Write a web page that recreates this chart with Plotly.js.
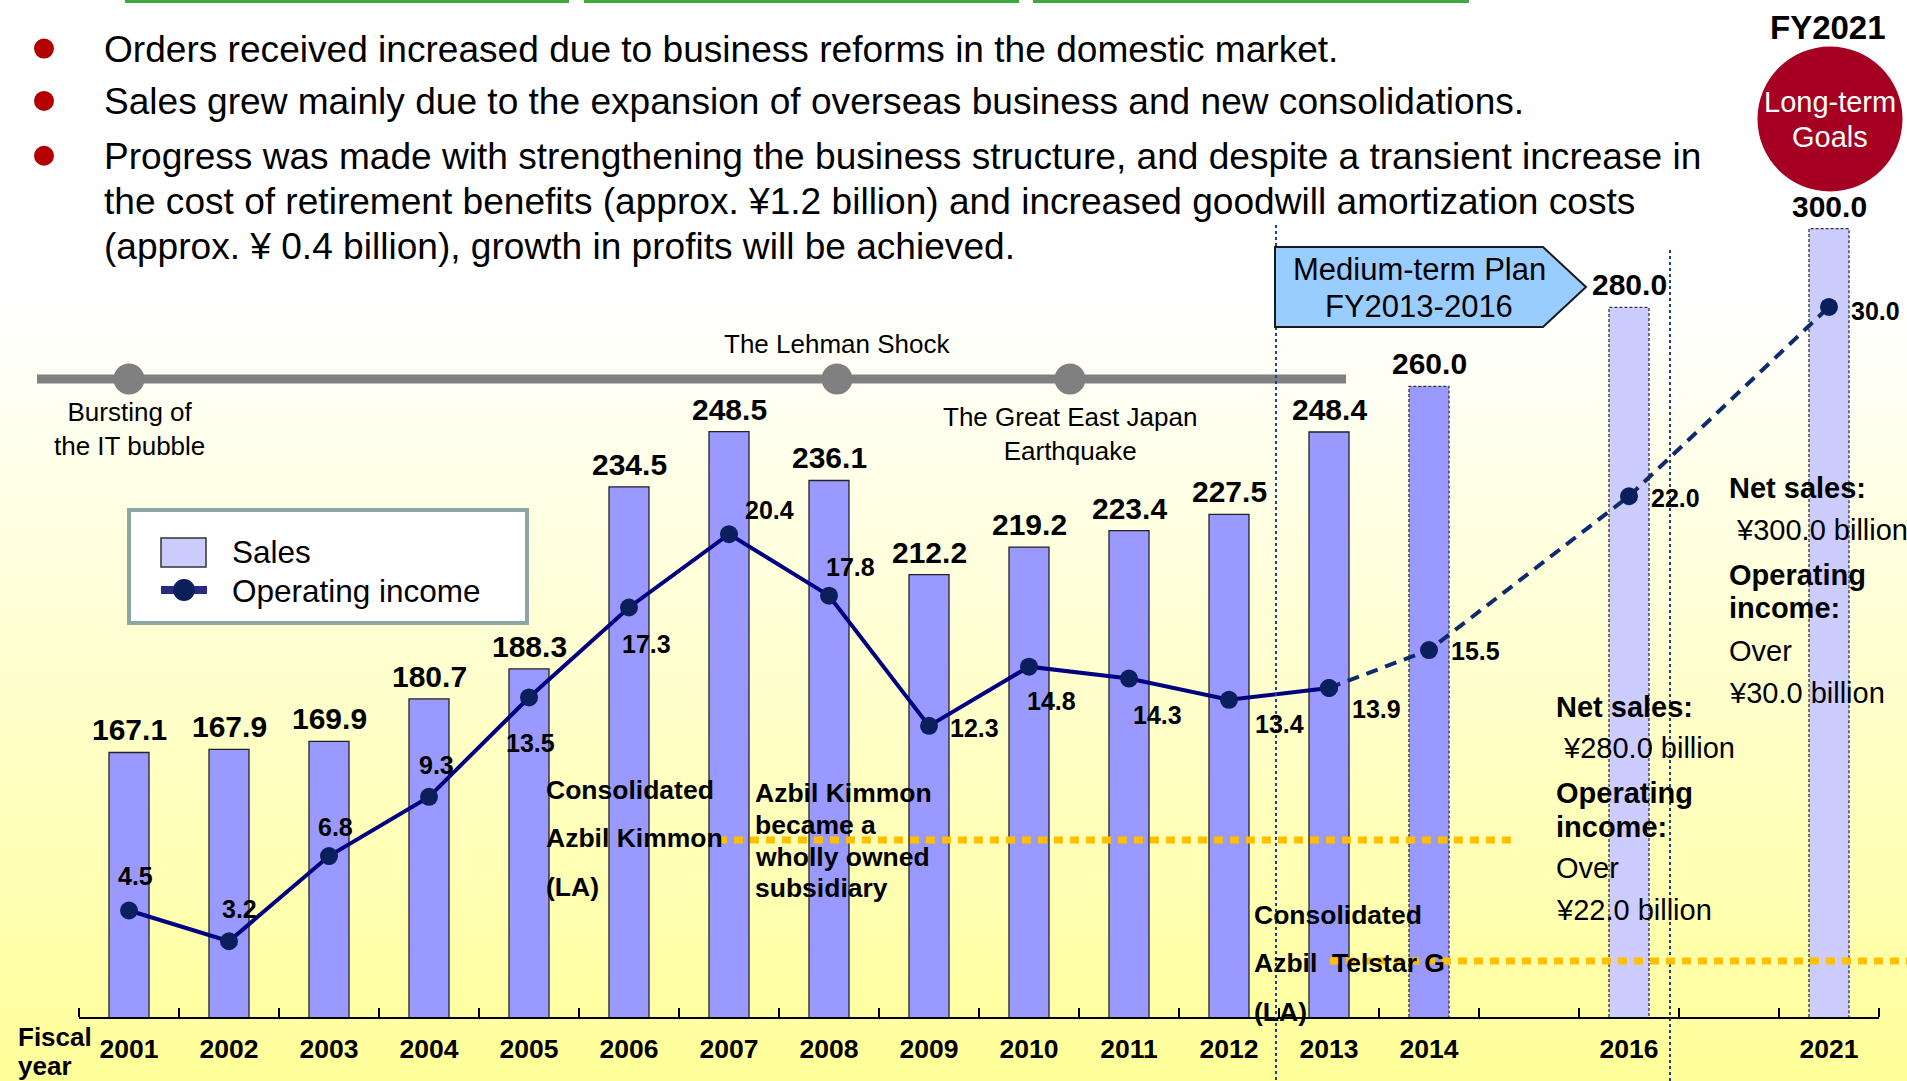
<!DOCTYPE html>
<html><head><meta charset="utf-8">
<script src="https://cdn.plot.ly/plotly-3.0.1.min.js"></script>
<style>
html,body{margin:0;padding:0;}
body{width:1907px;height:1081px;overflow:hidden;background:linear-gradient(to bottom,#ffffff 0%,#ffffff 28%,#ffff99 100%);}
#chart{width:1907px;height:1081px;}
</style></head><body><div id="chart"></div>
<script>
// ---------------- DATA ----------------
const years = ['2001','2002','2003','2004','2005','2006','2007','2008','2009','2010','2011','2012','2013','2014','2016','2021'];
const sales = [167.1,167.9,169.9,180.7,188.3,234.5,248.5,236.1,212.2,219.2,223.4,227.5,248.4,260.0,280.0,300.0];
const opIncome = [4.5,3.2,6.8,9.3,13.5,17.3,20.4,17.8,12.3,14.8,14.3,13.4,13.9,15.5,22.0,30.0];
const status = ['actual','actual','actual','actual','actual','actual','actual','actual','actual','actual','actual','actual','actual','forecast','target','target'];
const axisSlots = ['2001','2002','2003','2004','2005','2006','2007','2008','2009','2010','2011','2012','2013','2014','','2016','','2021'];
const seriesNames = ['Sales','Operating income'];
const eventLabels = ['Bursting of<br>the IT bubble','The Lehman Shock','The Great East Japan<br>Earthquake'];
const eventSlots = [0, 7.08, 9.41];
const bulletLines = [
  ['Orders received increased due to business reforms in the domestic market.'],
  ['Sales grew mainly due to the expansion of overseas business and new consolidations.'],
  ['Progress was made with strengthening the business structure, and despite a transient increase in',
   'the cost of retirement benefits (approx. \u00a51.2 billion) and increased goodwill amortization costs',
   '(approx. \u00a5 0.4 billion), growth in profits will be achieved.']
];
const planLabel = ['Medium-term Plan','FY2013-2016'];
const goalTitle = 'FY2021';
const goalLabel = ['Long-term','Goals'];
const kimmonConsol = ['Consolidated','Azbil Kimmon','(LA)'];
const kimmonOwned = ['Azbil Kimmon','became a','wholly owned','subsidiary'];
const telstarConsol = ['Consolidated','Azbil\u00a0\u00a0Telstar G','(LA)'];
const target2016 = [['Net sales:',true],['\u00a0\u00a5280.0 billion',false],['Operating',true],['income:',true],['Over',false],['\u00a522.0 billion',false]];
const target2021 = [['Net sales:',true],['\u00a0\u00a5300.0 billion',false],['Operating',true],['income:',true],['Over',false],['\u00a530.0 billion',false]];
const fiscalLabel = ['Fiscal','year'];

// ---------------- LAYOUT HELPERS ----------------
const W=1907, H=1081, M={l:79,r:28,t:0,b:64};
const PW=W-M.l-M.r, PH=H-M.t-M.b;
const xp = px => (px-M.l)/PW;
const yp = py => (H-M.b-py)/PH;
const FONT = 'Liberation Sans, Arial, sans-serif';
const slot = years.map(y => axisSlots.indexOf(y));

function note(px, py, text, size, bold, anchor, color) {
  return {xref:'paper', yref:'paper', x:xp(px), y:yp(py), text:text, showarrow:false,
    xanchor:anchor||'left', yanchor:'middle', borderpad:0,
    font:{family:FONT, size:size, color:color||'#000', weight:bold?'bold':'normal'}};
}

// ---------------- TRACES ----------------
const barColor = status.map(s => s==='target' ? '#CCCCFF' : '#9999FF');
const barLineW = status.map(s => s==='actual' ? 1.3 : 0);
const traces = [];
traces.push({type:'bar', x:slot, y:sales, width:0.4, name:seriesNames[0],
  marker:{color:barColor, line:{color:'#222', width:barLineW}}, hoverinfo:'x+y'});

// dashed outlines for non-actual bars
const ox=[], oy=[];
sales.forEach((v,i)=>{ if(status[i]!=='actual'){ const c=slot[i];
  ox.push(c-0.2,c-0.2,c+0.2,c+0.2,null); oy.push(100,v,v,100,null);} });
traces.push({type:'scatter', mode:'lines', x:ox, y:oy, line:{color:'#333', width:1.3, dash:'3px,2px'}, hoverinfo:'skip', showlegend:false});

const actIdx = status.map((s,i)=>s==='actual'?i:-1).filter(i=>i>=0);
const lastAct = actIdx[actIdx.length-1];
const planIdx = status.map((s,i)=>(s!=='actual'||i===lastAct)?i:-1).filter(i=>i>=0);
traces.push({type:'scatter', mode:'lines+markers', yaxis:'y2', name:seriesNames[1],
  x:actIdx.map(i=>slot[i]), y:actIdx.map(i=>opIncome[i]),
  line:{color:'#000080', width:4}, marker:{size:18, color:'#0B1F5C'}});
traces.push({type:'scatter', mode:'lines+markers', yaxis:'y2', showlegend:false,
  x:planIdx.map(i=>slot[i]), y:planIdx.map(i=>opIncome[i]),
  line:{color:'#0E2C6C', width:4, dash:'12px,8px'}, marker:{size:18, color:'#0B1F5C'}});

// ---------------- ANNOTATIONS ----------------
const ann = [];
// sales labels
sales.forEach((v,i)=>ann.push({xref:'x', yref:'y', x:slot[i], y:v, yshift:22.5, text:v.toFixed(1),
  showarrow:false, xanchor:'center', yanchor:'middle', font:{family:FONT, size:30, weight:'bold', color:'#000'}}));
// operating income labels (pixel offsets from the point)
const opOffset = [[6,-34],[10,-32],[6,-29],[7,-32],[1,46],[17,36],[40,-24],[21,-29],[45,2],[22,34],[28,36],[50,24],[47,21],[46,1],[46,2],[46,4]];
opIncome.forEach((v,i)=>ann.push({xref:'x', yref:'y2', x:slot[i], y:v, xshift:opOffset[i][0], yshift:-opOffset[i][1],
  text:v.toFixed(1), showarrow:false, xanchor:'center', yanchor:'middle', font:{family:FONT, size:25, weight:'bold', color:'#000'}}));
// events
const eventLabelY = [429, 344, 434];
eventLabels.forEach((t,i)=>ann.push({xref:'x', yref:'paper', x:eventSlots[i], y:yp(eventLabelY[i]), text:t,
  showarrow:false, xanchor:'center', yanchor:'middle', font:{family:FONT, size:26, color:'#000'}}));
// bullets
const bulletY = [[48.6],[100.9],[155.7,200.7,245.7]];
bulletLines.forEach((lines,b)=>lines.forEach((t,j)=>ann.push(note(103, bulletY[b][j], t, 37.1, false))));
// plan box text
ann.push(note(1419, 269, planLabel[0], 31, false, 'center'));
ann.push(note(1419, 306.5, planLabel[1], 31, false, 'center'));
// FY2021 goals
ann.push(note(1828, 27, goalTitle, 33, true, 'center'));
ann.push(note(1830, 102, goalLabel[0], 29, false, 'center', '#fff'));
ann.push(note(1830, 137, goalLabel[1], 29, false, 'center', '#fff'));
// acquisitions
[790,838,887].forEach((y,j)=>ann.push(note(545, y, kimmonConsol[j], 26.5, true)));
[793,825,857,888].forEach((y,j)=>ann.push(note(754, y, kimmonOwned[j], 26.5, true)));
[915,963,1012].forEach((y,j)=>ann.push(note(1253, y, telstarConsol[j], 26.5, true)));
// targets
[707,748,793,827,868,910].forEach((y,j)=>ann.push(note(1555, y, target2016[j][0], 29, target2016[j][1])));
[488,530,575,608,651,693].forEach((y,j)=>ann.push(note(1728, y, target2021[j][0], 29, target2021[j][1])));
// fiscal year
ann.push(note(17, 1037, fiscalLabel[0], 26, true));
ann.push(note(17, 1066, fiscalLabel[1], 26, true));
// legend texts
ann.push(note(231, 552, seriesNames[0], 31.5, false));
ann.push(note(231, 591, seriesNames[1], 31.5, false));

// ---------------- SHAPES ----------------
const shp = [];
function pline(x0,y0,x1,y1,color,width,dash){shp.push({type:'line',xref:'paper',yref:'paper',x0:xp(x0),y0:yp(y0),x1:xp(x1),y1:yp(y1),line:{color:color,width:width,dash:dash||'solid'}});}
function pcircle(cx,cy,d,color,lineColor,lw){shp.push({type:'circle',xref:'paper',yref:'paper',xsizemode:'pixel',ysizemode:'pixel',
  xanchor:xp(cx),yanchor:yp(cy),x0:-d/2,x1:d/2,y0:-d/2,y1:d/2,fillcolor:color,line:{color:lineColor||color,width:lw||0}});}
// green header lines
pline(125,1.5,569,1.5,'#3DA83D',3); pline(584,1.5,1019,1.5,'#3DA83D',3); pline(1033,1.5,1469,1.5,'#3DA83D',3);
// bullet dots
[48.6,100.9,155.7].forEach(y=>pcircle(44,y,20,'#B40000'));
// goals circle
pcircle(1830,119,145,'#A50021');
// timeline
pline(37,379,1346,379,'#808080',9);
eventSlots.forEach(s=>shp.push({type:'circle',xref:'x',yref:'paper',xsizemode:'pixel',ysizemode:'pixel',xanchor:s,yanchor:yp(379),
  x0:-15.5,x1:15.5,y0:-15.5,y1:15.5,fillcolor:'#808080',line:{width:0}}));
// blue dotted verticals
pline(1276,225,1276,1081,'#1F3FA0',2,'dot');
pline(1670,250,1670,1081,'#1F3FA0',2,'dot');
// plan pentagon
const pp=[[1275,247],[1543,247],[1586,287],[1543,327],[1275,327]];
shp.push({type:'path',xref:'paper',yref:'paper',path:'M'+pp.map(p=>xp(p[0])+','+yp(p[1])).join(' L')+' Z',
  fillcolor:'#99CCFF',line:{color:'#1A1A1A',width:2}});
// orange dotted lines
pline(718,840,1518,840,'#FFC000',7,'9px,7px');
pline(1330,961,1907,961,'#FFC000',7,'9px,7px');
// legend
shp.push({type:'rect',xref:'paper',yref:'paper',x0:xp(129),x1:xp(527),y0:yp(510),y1:yp(623),fillcolor:'#fff',line:{color:'#8CA6A6',width:4}});
shp.push({type:'rect',xref:'paper',yref:'paper',x0:xp(161),x1:xp(206),y0:yp(538),y1:yp(567),fillcolor:'#CCCCFF',line:{color:'#333',width:1.5}});
pline(161,590,207,590,'#2B2B84',8);
pcircle(184,590,22,'#0B1F5C');

// ---------------- LAYOUT ----------------
const boundaries = axisSlots.map((_,i)=>i-0.5).concat([axisSlots.length-0.5]);
const layout = {
  width:W, height:H, margin:M, showlegend:false,
  paper_bgcolor:'rgba(0,0,0,0)', plot_bgcolor:'rgba(0,0,0,0)',
  bargap:0.6,
  xaxis:{range:[-0.5, axisSlots.length-0.5], tickmode:'array', tickvals:slot, ticktext:years, ticks:'',
    showline:true, linecolor:'#000', linewidth:1.5, showgrid:false, zeroline:false, ticklabelstandoff:8,
    tickfont:{family:FONT, size:26.5, weight:'bold', color:'#000'},
    minor:{tickmode:'array', tickvals:boundaries, ticks:'inside', ticklen:9, tickwidth:1.2, tickcolor:'#000', showgrid:false}},
  yaxis:{range:[100, 100+PH/3.942], visible:false, fixedrange:true},
  yaxis2:{range:[0, PH/23.67], overlaying:'y', visible:false, fixedrange:true},
  annotations:ann, shapes:shp
};
Plotly.newPlot('chart', traces, layout, {staticPlot:true, displayModeBar:false});
</script></body></html>
